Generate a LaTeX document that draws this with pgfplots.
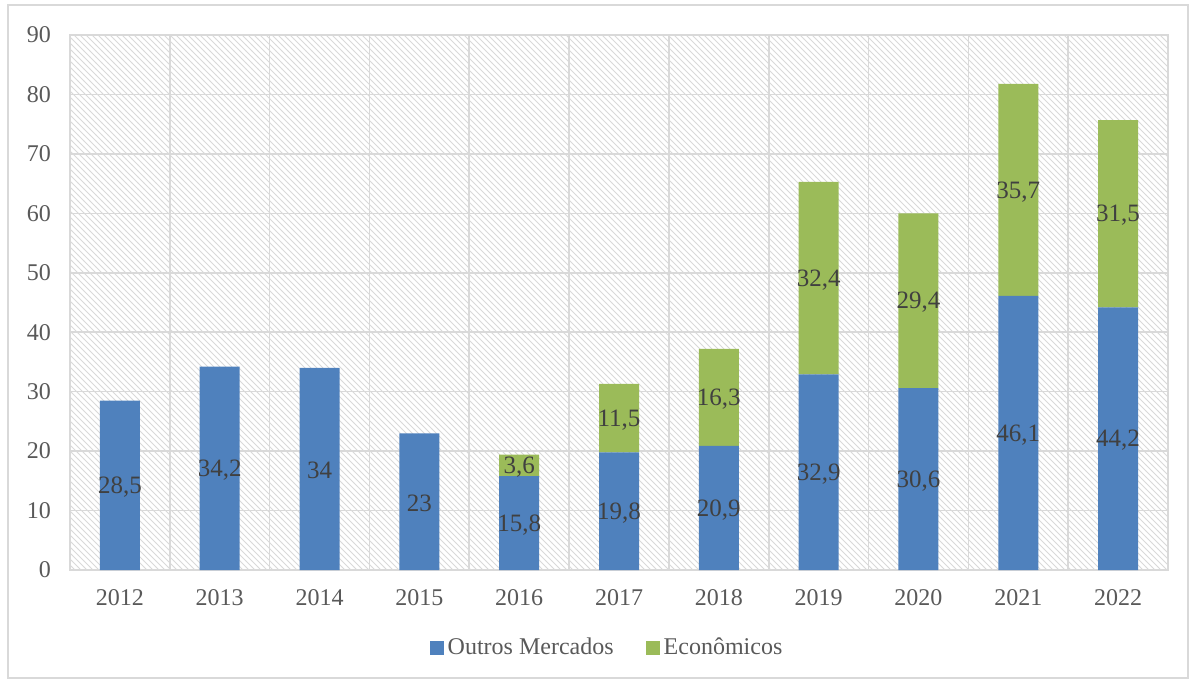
\documentclass[border=0pt]{standalone}
\usepackage{pgfplots}
\pgfplotsset{compat=1.18}
\usepackage{fontspec}
\setmainfont{Liberation Serif}
\usetikzlibrary{patterns}
\definecolor{cblue}{HTML}{4F81BD}
\definecolor{cgreen}{HTML}{9BBB59}
\definecolor{cgrid}{HTML}{D9D9D9}
\definecolor{ctext}{HTML}{595959}
\definecolor{clab}{HTML}{404040}
\begin{document}
\begin{tikzpicture}
\path[use as bounding box] (-35pt,-55.5pt) rectangle (562pt,285pt);
\draw[cgrid, line width=0.6pt] (-31pt,-54pt) rectangle (559pt,282.5pt);
\pgfplotsset{
  common/.style={
    scale only axis, width=549pt, height=267.5pt,
    xmin=-0.5, xmax=10.5, ymin=0, ymax=90,
    /pgf/number format/assume math mode=true,
  }
}
\begin{axis}[common,
  ybar stacked, bar width=20pt,
  axis background/.style={pattern=north west lines, pattern color=black!15},
  axis line style={cgrid, line width=0.8pt},
  xtick={0,...,10},
  xticklabels={2012,2013,2014,2015,2016,2017,2018,2019,2020,2021,2022},
  minor xtick={-0.5,0.5,...,10.5},
  ytick={0,10,...,90},
  major tick length=0pt, minor tick length=0pt,
  ymajorgrids, xminorgrids,
  grid style={cgrid, line width=0.8pt},
  minor grid style={cgrid, line width=0.8pt},
  tick label style={font=\fontsize{12}{14}\selectfont, text=ctext},
  yticklabel style={xshift=-6pt},
  xticklabel style={yshift=-6pt},
  legend style={at={(0.49,-0.146)}, anchor=center, draw=none, fill=none,
    legend columns=2, font=\fontsize{12}{14}\selectfont, text=ctext,
    /tikz/every even column/.append style={column sep=14pt}},
  legend image code/.code={\fill[#1] (0pt,-3.5pt) rectangle (7pt,3.5pt);},
]
\addplot[fill=cblue, draw=none] coordinates {(0,28.5) (1,34.2) (2,34) (3,23) (4,15.8) (5,19.8) (6,20.9) (7,32.9) (8,30.6) (9,46.1) (10,44.2)};
\addplot[fill=cgreen, draw=none] coordinates {(0,0) (1,0) (2,0) (3,0) (4,3.6) (5,11.5) (6,16.3) (7,32.4) (8,29.4) (9,35.7) (10,31.5)};
\legend{Outros Mercados, Econômicos}
\end{axis}
\begin{axis}[common, hide axis,
  every node near coord/.append style={anchor=center, font=\fontsize{12.5}{14}\selectfont, text=clab},
]
\addplot[only marks, mark=none, nodes near coords, point meta=explicit symbolic] coordinates {
 (0,13.95)[28,5] (1,16.8)[34,2] (2,16.7)[34] (3,11.2)[23] (4,7.6)[15,8] (5,9.6)[19,8]
 (6,10.15)[20,9] (7,16.15)[32,9] (8,15.0)[30,6] (9,22.75)[46,1] (10,21.8)[44,2]
 (4,17.3)[3,6] (5,25.25)[11,5] (6,28.75)[16,3] (7,48.8)[32,4] (8,45.0)[29,4] (9,63.65)[35,7] (10,59.65)[31,5]
};
\end{axis}
\end{tikzpicture}
\end{document}
